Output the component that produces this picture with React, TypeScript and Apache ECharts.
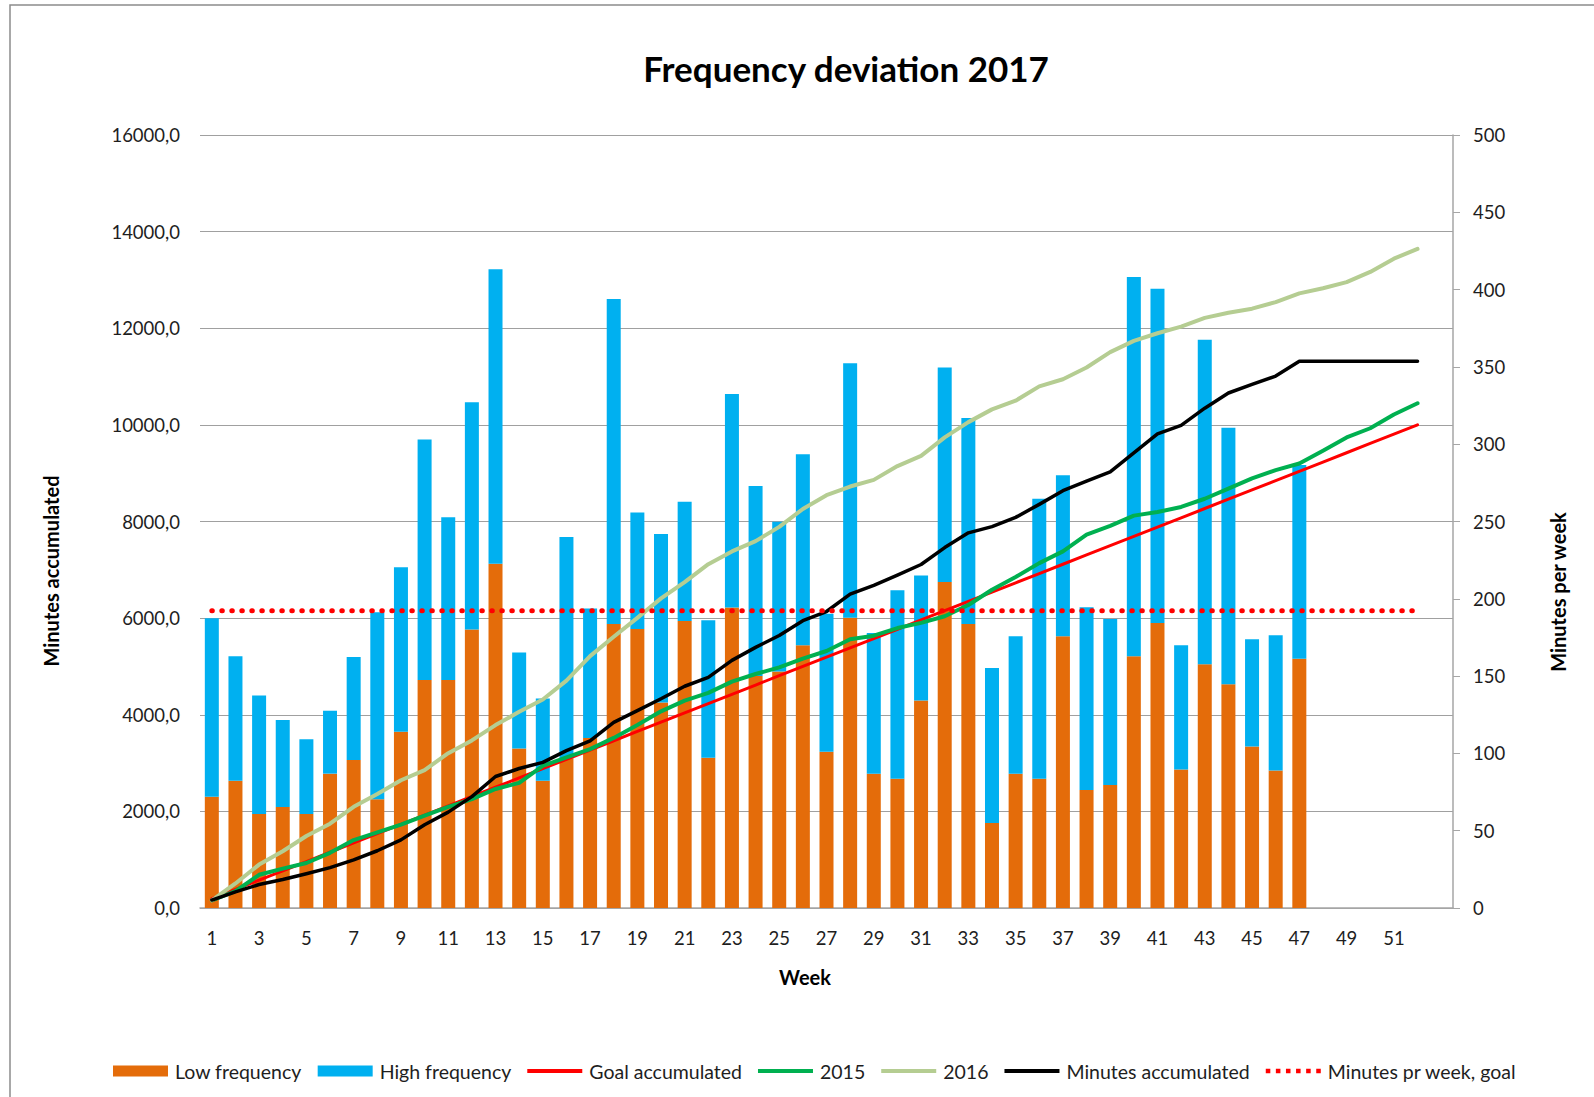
import React, { useEffect, useRef } from "react";
import * as echarts from "echarts";

// Weeks 1..52 plus one empty trailing category
const weekLabels: string[] = [
  "1","2","3","4","5","6","7","8","9","10","11","12","13","14","15","16","17","18","19","20",
  "21","22","23","24","25","26","27","28","29","30","31","32","33","34","35","36","37","38","39","40",
  "41","42","43","44","45","46","47","48","49","50","51","52","",
];

// Minutes per week (right axis)
const lowFrequency: number[] = [
  72.0, 82.3, 60.8, 65.4, 60.8, 86.9, 95.8, 70.4, 114.0, 147.4,
  147.4, 180.1, 222.7, 103.1, 82.3, 96.8, 110.0, 183.7, 180.4, 133.0,
  185.7, 97.2, 194.3, 150.0, 153.0, 169.9, 101.1, 187.7, 86.9, 83.6,
  134.2, 210.8, 183.7, 54.9, 86.9, 83.6, 175.8, 76.3, 79.6, 162.9,
  184.4, 89.6, 157.6, 144.7, 104.4, 88.9, 161.3,
];
const highFrequency: number[] = [
  115.4, 80.6, 76.7, 56.2, 48.3, 40.7, 66.5, 120.9, 106.4, 155.6,
  105.4, 147.1, 190.4, 62.1, 53.2, 143.1, 83.7, 210.2, 75.4, 108.9,
  77.0, 88.9, 138.1, 123.0, 96.8, 123.6, 89.2, 164.6, 90.9, 122.0,
  80.9, 138.8, 133.2, 100.4, 88.9, 181.1, 104.1, 118.3, 107.4, 245.2,
  216.1, 80.3, 209.9, 165.9, 69.4, 87.6, 125.2,
];

// Minutes accumulated (left axis)
const goalAccumulated: number[] = [
  192, 385, 577, 769, 962, 1154, 1346, 1538, 1731, 1923,
  2115, 2308, 2500, 2692, 2885, 3077, 3269, 3462, 3654, 3846,
  4038, 4231, 4423, 4615, 4808, 5000, 5192, 5385, 5577, 5769,
  5962, 6154, 6346, 6538, 6731, 6923, 7115, 7308, 7500, 7692,
  7885, 8077, 8269, 8462, 8654, 8846, 9038, 9231, 9423, 9615,
  9808, 10000,
];
const accumulated2015: number[] = [
  159, 349, 687, 814, 931, 1142, 1406, 1565, 1724, 1914,
  2094, 2252, 2464, 2591, 2940, 3120, 3289, 3521, 3786, 4071,
  4293, 4452, 4685, 4843, 4981, 5161, 5319, 5562, 5636, 5795,
  5901, 6038, 6271, 6588, 6853, 7138, 7381, 7730, 7910, 8122,
  8196, 8301, 8471, 8682, 8894, 9063, 9200, 9465, 9740, 9930,
  10215, 10448,
];
const accumulated2016: number[] = [
  159, 508, 899, 1174, 1491, 1745, 2094, 2358, 2644, 2855,
  3204, 3469, 3786, 4060, 4315, 4706, 5213, 5615, 6006, 6408,
  6747, 7117, 7381, 7593, 7889, 8259, 8545, 8724, 8862, 9147,
  9359, 9740, 10057, 10321, 10501, 10797, 10945, 11188, 11506, 11738,
  11897, 12034, 12214, 12320, 12405, 12542, 12722, 12827, 12954, 13166,
  13441, 13642,
];
const minutesAccumulated: number[] = [
  165, 335, 486, 590, 708, 835, 995, 1185, 1410, 1724,
  1985, 2305, 2722, 2887, 3014, 3257, 3460, 3842, 4085, 4330,
  4590, 4775, 5126, 5395, 5640, 5946, 6137, 6495, 6680, 6890,
  7110, 7460, 7765, 7895, 8085, 8355, 8638, 8835, 9025, 9420,
  9814, 9990, 10345, 10660, 10838, 11010, 11315, 11315, 11315, 11315,
  11315, 11315,
];
const weeklyGoalValue = 192.3;
const weeklyGoal: number[] = goalAccumulated.map(() => weeklyGoalValue);

const leftTicks = { min: 0, max: 16000, interval: 2000 };
const rightTicks = { min: 0, max: 500, interval: 50 };

const FONT = 'Lato, "Open Sans", "Noto Sans", sans-serif';
const TEXT = "#1e1e1e";

const LINE_ICON = "path://M0,0H55V4H0Z";
const DOT_ICON =
  "path://M0,0h4.5v4.5h-4.5zM10,0h4.5v4.5h-4.5zM20,0h4.5v4.5h-4.5zM30,0h4.5v4.5h-4.5zM40,0h4.5v4.5h-4.5zM50,0h4.5v4.5h-4.5z";

export default function App() {
  const ref = useRef<HTMLDivElement>(null);
  useEffect(() => {
    if (!ref.current) return;
    const chart = echarts.init(ref.current, null, { renderer: "svg" });
    const lineSeries = (name: string, data: number[], color: string, width: number, z: number) => ({
      name,
      type: "line",
      data,
      yAxisIndex: 0,
      symbol: "none",
      showSymbol: false,
      z,
      lineStyle: { color, width, cap: "round", join: "round" },
      itemStyle: { color },
    });
    const axisTitle = (text: string, x: number, y: number, rotated: boolean) => ({
      type: "text",
      x,
      y,
      rotation: rotated ? Math.PI / 2 : 0,
      style: {
        text,
        fontFamily: FONT,
        fontSize: 20,
        fontWeight: "bold",
        fill: "#000",
        align: "center",
        verticalAlign: "middle",
      },
    });
    chart.setOption({
      animation: false,
      backgroundColor: "#ffffff",
      textStyle: { fontFamily: FONT },
      grid: { left: 200, right: 141, top: 135, bottom: 189, containLabel: false },
      graphic: [
        {
          type: "rect",
          silent: true,
          z: -10,
          shape: { x: 10, y: 5, width: 1700, height: 1200 },
          style: { fill: "none", stroke: "#8c8c8c", lineWidth: 1.5 },
        },
        {
          type: "text",
          x: 846,
          y: 68,
          style: {
            text: "Frequency deviation 2017",
            fontFamily: FONT,
            fontSize: 35,
            fontWeight: "bold",
            fill: "#000",
            align: "center",
            verticalAlign: "middle",
          },
        },
        axisTitle("Week", 805, 977, false),
        axisTitle("Minutes accumulated", 51, 571, true),
        axisTitle("Minutes per week", 1558, 592, true),
      ],
      legend: {
        left: 108,
        top: 1056,
        itemWidth: 55,
        itemHeight: 11,
        itemGap: 16,
        textStyle: { fontFamily: FONT, fontSize: 19.5, color: TEXT, padding: [0, 0, 0, 2] },
        data: [
          { name: "Low frequency", icon: "rect" },
          { name: "High frequency", icon: "rect" },
          { name: "Goal accumulated", icon: LINE_ICON },
          { name: "2015", icon: LINE_ICON },
          { name: "2016", icon: LINE_ICON },
          { name: "Minutes accumulated", icon: LINE_ICON },
          { name: "Minutes pr week, goal", icon: DOT_ICON },
        ],
      },
      xAxis: {
        type: "category",
        data: weekLabels,
        boundaryGap: true,
        axisLine: { show: true, lineStyle: { color: "#a6a6a6", width: 1.5 } },
        axisTick: { show: false },
        axisLabel: {
          interval: 1,
          margin: 20,
          fontFamily: FONT,
          fontSize: 18.5,
          color: TEXT,
        },
        splitLine: { show: false },
      },
      yAxis: [
        {
          type: "value",
          position: "left",
          min: leftTicks.min,
          max: leftTicks.max,
          interval: leftTicks.interval,
          axisLine: { show: false },
          axisTick: { show: false },
          axisLabel: {
            margin: 20,
            fontFamily: FONT,
            fontSize: 18.5,
            color: TEXT,
            formatter: (v: number) => v.toFixed(1).replace(".", ","),
          },
          splitLine: { show: true, lineStyle: { color: "#a0a0a0", width: 1 } },
        },
        {
          type: "value",
          position: "right",
          min: rightTicks.min,
          max: rightTicks.max,
          interval: rightTicks.interval,
          axisLine: { show: true, lineStyle: { color: "#a6a6a6", width: 1.5 } },
          axisTick: { show: true, inside: false, length: 7, lineStyle: { color: "#a6a6a6" } },
          axisLabel: {
            margin: 20,
            fontFamily: FONT,
            fontSize: 18.5,
            color: TEXT,
          },
          splitLine: { show: false },
        },
      ],
      series: [
        {
          name: "Low frequency",
          type: "bar",
          stack: "week",
          yAxisIndex: 1,
          data: lowFrequency,
          barWidth: 14,
          z: 2,
          itemStyle: { color: "#E46C0A" },
        },
        {
          name: "High frequency",
          type: "bar",
          stack: "week",
          yAxisIndex: 1,
          data: highFrequency,
          barWidth: 14,
          z: 2,
          itemStyle: { color: "#00B0F0" },
        },
        lineSeries("Goal accumulated", goalAccumulated, "#FF0000", 3, 3),
        lineSeries("2015", accumulated2015, "#00B050", 4, 3),
        lineSeries("2016", accumulated2016, "#B5CD92", 4, 3),
        lineSeries("Minutes accumulated", minutesAccumulated, "#000000", 3.5, 3),
        {
          name: "Minutes pr week, goal",
          type: "line",
          yAxisIndex: 1,
          data: weeklyGoal,
          symbol: "none",
          showSymbol: false,
          z: 4,
          lineStyle: { color: "#FF0000", width: 5, type: [0.5, 9.5], cap: "round" },
          itemStyle: { color: "#FF0000" },
        },
      ],
    });
    return () => chart.dispose();
  }, []);
  return (
    <div
      ref={ref}
      style={{ position: "absolute", left: 0, top: 0, width: 1594, height: 1097 }}
    />
  );
}
